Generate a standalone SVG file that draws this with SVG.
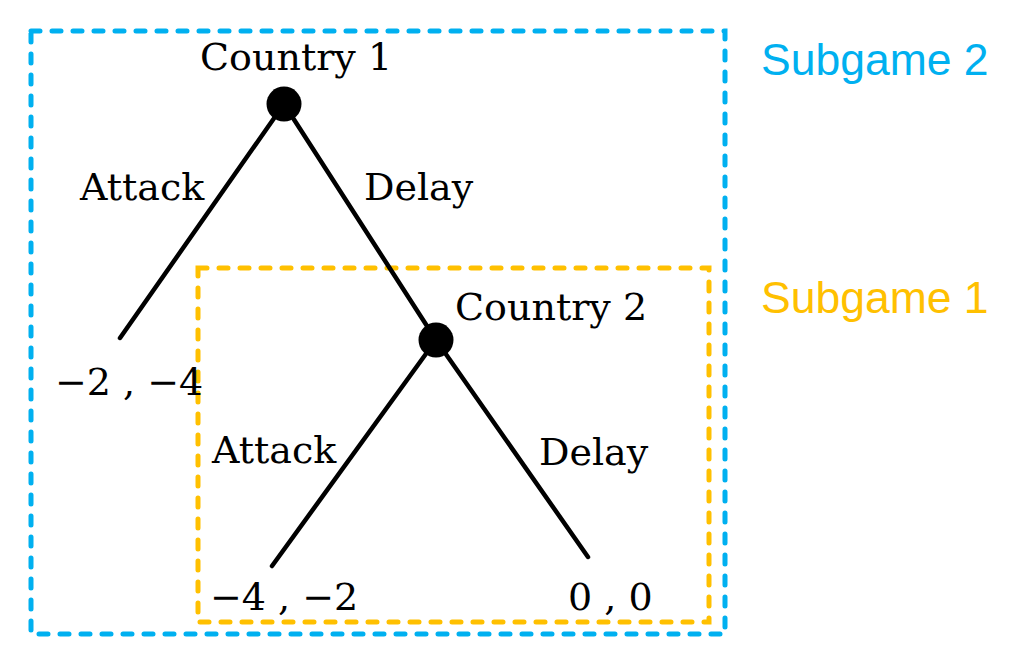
<svg xmlns="http://www.w3.org/2000/svg" width="1014" height="656" viewBox="0 0 1014 656">
<style>
.edge{stroke:#000;stroke-width:4.5;stroke-linecap:round;fill:none}
.node{fill:#000}
.t{font-family:"DejaVu Serif","Liberation Serif",serif;font-size:38px;fill:#000}
.box{fill:none;stroke-width:5;stroke-dasharray:9 12;stroke-linecap:round}
.lab{font-family:"Liberation Sans",Arial,sans-serif;font-size:44.5px}
</style>
<rect width="1014" height="656" fill="#fff"/>
<g id="subgame2">
<rect class="box" x="31" y="31" width="694" height="603" stroke="#00B0F0"/>
<text class="lab" x="761" y="75" fill="#00B0F0">Subgame 2</text>
</g>
<g id="subgame1">
<rect class="box" x="198" y="268" width="511" height="354" stroke="#FFC000"/>
<text class="lab" x="761" y="313" fill="#FFC000">Subgame 1</text>
</g>
<g id="connectors">
<line class="edge" x1="284" y1="104" x2="120" y2="338"/>
<line class="edge" x1="284" y1="104" x2="436" y2="340"/>
<line class="edge" x1="436" y1="340" x2="272" y2="566"/>
<line class="edge" x1="436" y1="340" x2="588" y2="557"/>
<text class="t" x="80" y="200">Attack</text>
<text class="t" x="364" y="200">Delay</text>
<text class="t" x="212" y="463">Attack</text>
<text class="t" x="539" y="465">Delay</text>
</g>
<g id="country1">
<circle class="node" cx="284" cy="104" r="17.5"/>
<text class="t" x="200" y="70">Country 1</text>
</g>
<g id="country2">
<circle class="node" cx="436" cy="340" r="17.5"/>
<text class="t" x="455" y="320">Country 2</text>
</g>
<g id="leaf1"><text class="t" x="55" y="395">−2 , −4</text></g>
<g id="leaf2"><text class="t" x="210" y="610">−4 , −2</text></g>
<g id="leaf3"><text class="t" x="568" y="610">0 , 0</text></g>
</svg>
